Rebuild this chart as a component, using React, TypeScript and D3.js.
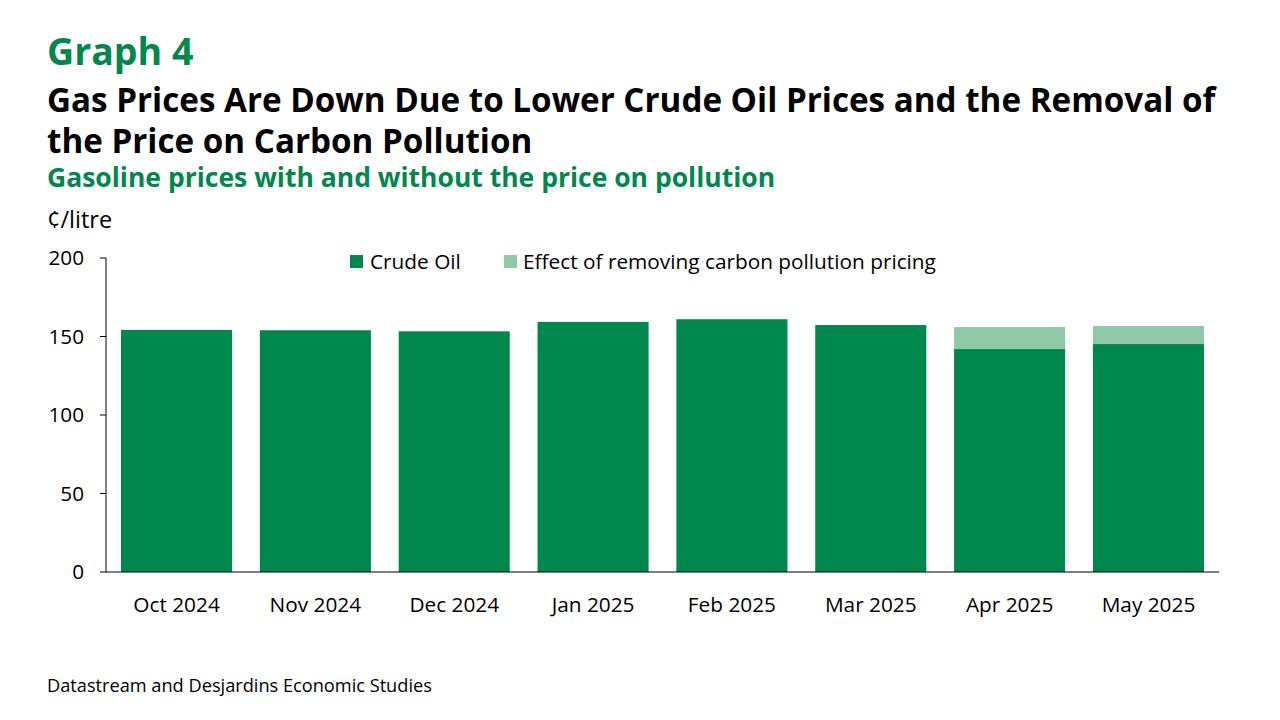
import React from "react";
import * as d3 from "d3";

const categories = ["Oct 2024", "Nov 2024", "Dec 2024", "Jan 2025", "Feb 2025", "Mar 2025", "Apr 2025", "May 2025"];
const crudeOil = [154.2, 154.0, 153.3, 159.3, 161.0, 157.3, 142.0, 145.2];
const carbonEffect = [0, 0, 0, 0, 0, 0, 14.0, 11.5];
const yTicks = [0, 50, 100, 150, 200];
const seriesNames = ["Crude Oil", "Effect of removing carbon pollution pricing"];
const seriesColors = ["#00874E", "#8FC9A8"];

const FONT = "'Open Sans', sans-serif";
const GREEN = "#00874E";

export default function App() {
  const W = 1280, H = 720;
  const left = 106, right = 1219, top = 258, bottom = 572;
  const x = d3.scaleBand<string>().domain(categories).range([left, right]).paddingInner(0.2).paddingOuter(0.108);
  const y = d3.scaleLinear().domain([0, 200]).range([bottom, top]);

  const rows = categories.map((c, i) => ({ cat: c, crude: crudeOil[i], effect: carbonEffect[i] }));
  const stacked = d3.stack<any>().keys(["crude", "effect"])(rows);

  return (
    <svg width={W} height={H} style={{ position: "absolute", left: 0, top: 0, background: "#fff" }} fontFamily={FONT}>
      <rect width={W} height={H} fill="#fff" />
      <text x={47} y={65} fontSize={37.5} fontWeight={700} fill={GREEN}>Graph 4</text>
      <text x={47} y={112} fontSize={33.2} fontWeight={700} fill="#000">Gas Prices Are Down Due to Lower Crude Oil Prices and the Removal of</text>
      <text x={47} y={153} fontSize={33.2} fontWeight={700} fill="#000">the Price on Carbon Pollution</text>
      <text x={47} y={187} fontSize={26.5} fontWeight={700} fill={GREEN}>Gasoline prices with and without the price on pollution</text>
      <text x={47} y={228} fontSize={23.5} fill="#000">¢/litre</text>

      {stacked.map((s, si) => (
        <g key={si} fill={seriesColors[si]}>
          {s.map((d, i) => {
            const h = y(d[0]) - y(d[1]);
            if (h <= 0) return null;
            return <rect key={i} x={x(categories[i])} y={y(d[1])} width={x.bandwidth()} height={h} />;
          })}
        </g>
      ))}

      <line x1={left} x2={left} y1={top} y2={bottom} stroke="#000" strokeWidth={1} />
      {yTicks.map((t) => (
        <g key={t}>
          <line x1={left - 6} x2={left} y1={y(t)} y2={y(t)} stroke="#000" strokeWidth={1} />
          <text x={84} y={y(t)} dy="0.35em" textAnchor="end" fontSize={20.7} fill="#000">{t}</text>
        </g>
      ))}
      <line x1={left} x2={right} y1={bottom} y2={bottom} stroke="#000" strokeWidth={1} />
      {categories.map((c) => (
        <text key={c} x={(x(c) as number) + x.bandwidth() / 2} y={612} textAnchor="middle" fontSize={20.8} fill="#000">{c}</text>
      ))}

      <rect x={350} y={255} width={13} height={13} fill={seriesColors[0]} />
      <text x={370} y={269} fontSize={20.8} fill="#000">{seriesNames[0]}</text>
      <rect x={504} y={255} width={13} height={13} fill={seriesColors[1]} />
      <text x={523} y={269} fontSize={20.8} fill="#000">{seriesNames[1]}</text>

      <text x={47} y={692} fontSize={18.2} fill="#000">Datastream and Desjardins Economic Studies</text>
    </svg>
  );
}
